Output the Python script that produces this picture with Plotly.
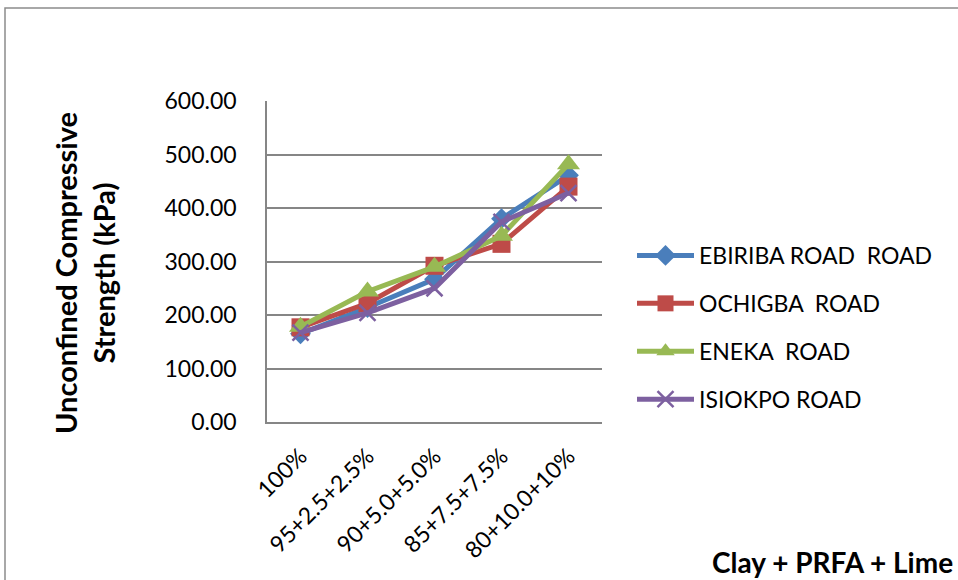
import plotly.graph_objects as go

# Mix proportions (Clay + PRFA + Lime)
mixes = ["100%", "95+2.5+2.5%", "90+5.0+5.0%", "85+7.5+7.5%", "80+10.0+10%"]

# Unconfined compressive strength (kPa) per road
ebiriba = [165, 214, 267, 380, 461]
ochigba = [177, 222, 292, 333, 440]
eneka = [178, 244, 290, 348, 482]
isiokpo = [167, 204, 250, 374, 428]

road_names = ["EBIRIBA ROAD\u00a0 ROAD", "OCHIGBA\u00a0 ROAD", "ENEKA\u00a0 ROAD", "ISIOKPO ROAD"]
series = [ebiriba, ochigba, eneka, isiokpo]
colors = ["#4A7EBB", "#BE4B48", "#98B954", "#7D60A0"]
symbols = ["diamond", "square", "triangle-up", "x-thin"]
sizes = [16, 18, 20, 16]

FONT = "Lato, 'Open Sans', sans-serif"

fig = go.Figure()
for name, vals, col, sym, sz in zip(road_names, series, colors, symbols, sizes):
    fig.add_trace(go.Scatter(
        x=mixes, y=vals, name=name, mode="lines+markers",
        legendgroup=name,
        line=dict(color=col, width=5),
        marker=dict(symbol=sym, size=sz, color=col,
                    line=dict(color=col, width=2.5 if sym == "x-thin" else 0)),
    ))

W, H = 958, 580
L, R, T, B = 267, 602, 101, 422
pw, ph = R - L, B - T

def px(x):
    return (x - L) / pw

def py(y):
    return (B - y) / ph

fig.update_layout(
    width=W, height=H,
    margin=dict(l=L, r=W - R, t=T, b=H - B),
    paper_bgcolor="white", plot_bgcolor="white",
    font=dict(family=FONT, color="black", size=23),
    showlegend=True,
    legend=dict(
        x=px(632), y=py(234), xanchor="left", yanchor="top",
        font=dict(size=23, family=FONT),
        tracegroupgap=15, itemwidth=57,
        bgcolor="rgba(0,0,0,0)",
    ),
    xaxis=dict(
        type="category", range=[-0.5, 4.5], tickangle=-45, showgrid=False,
        showline=True, linecolor="#868686", linewidth=1.5,
        ticks="", tickfont=dict(size=23, family=FONT),
        ticklabelstandoff=10,
    ),
    yaxis=dict(
        range=[0, 600], tickvals=[0, 100, 200, 300, 400, 500, 600],
        tickformat=".2f",
        showgrid=True, gridcolor="#868686", gridwidth=1.5,
        showline=True, linecolor="#868686", linewidth=1.5,
        zeroline=False, ticks="", ticklabelstandoff=24,
        tickfont=dict(size=23, family=FONT),
    ),
    annotations=[
        dict(text="<b>Unconfined Compressive<br>Strength (kPa)</b>",
             xref="paper", yref="paper", x=px(84), y=py(273),
             xanchor="center", yanchor="middle", textangle=-90,
             showarrow=False, font=dict(size=29, family=FONT)),
        dict(text="<b>Clay + PRFA + Lime</b>",
             xref="paper", yref="paper", x=px(955), y=py(562),
             xanchor="right", yanchor="middle",
             showarrow=False, font=dict(size=28, family=FONT)),
    ],
    shapes=[
        dict(type="rect", xref="paper", yref="paper",
             x0=px(5), x1=px(970), y0=py(600), y1=py(8),
             line=dict(color="#8C8C8C", width=1.5), layer="below"),
    ],
)

fig.write_html("out.html")
